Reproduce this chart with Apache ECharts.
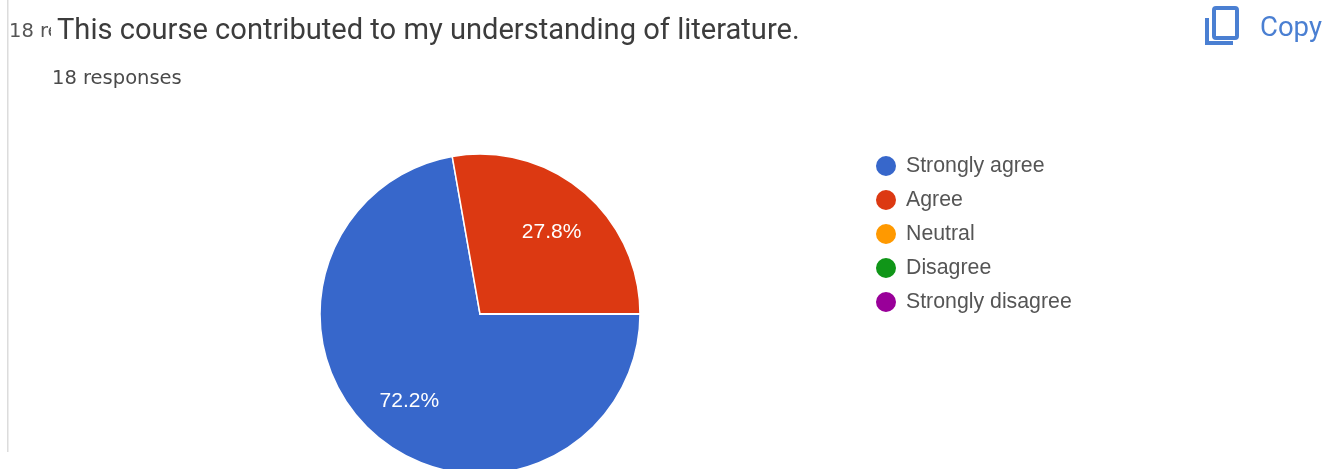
<!DOCTYPE html>
<html><head><meta charset="utf-8">
<style>html,body{margin:0;padding:0;background:#fff;overflow:hidden}#c{width:1337px;height:469px;filter:blur(0.6px)}</style>
<script src="https://cdn.jsdelivr.net/npm/echarts@6/dist/echarts.min.js"></script>
</head><body><div id="c"></div>
<script>
const categories = ['Strongly agree','Agree','Neutral','Disagree','Strongly disagree'];
const values = [13,5,0,0,0];
const colors = ['#3767cb','#dc3912','#ff9900','#109618','#990099'];
const titleText = 'This course contributed to my understanding of literature.';
const subText = '18 responses';
const clippedText = '18 re';
const copyText = 'Copy';
const FF = 'Roboto, Arial, sans-serif';
const AF = '"Liberation Sans", Arial, sans-serif';
const DF = '"DejaVu Sans", sans-serif';
const blue = '#4a7fd2';
const pieData = categories.map((n,i)=>({name:n,value:values[i],itemStyle:{color:colors[i]}}));
const chart = echarts.init(document.getElementById('c'),null,{renderer:'canvas'});
chart.setOption({
  animation:false,
  backgroundColor:'#fff',
  color:colors,
  legend:{
    orient:'vertical',left:874,top:154,padding:0,itemWidth:22,itemHeight:22,itemGap:10,icon:'circle',
    selectedMode:false,
    textStyle:{fontFamily:AF,fontSize:21.3,color:'#555',padding:[0,0,0,4]},
    data:categories
  },
  series:[
    {type:'pie',center:[480,314],radius:[0,160],startAngle:0,clockwise:true,data:pieData,
     itemStyle:{borderColor:'#fff',borderWidth:1.5},label:{show:false},labelLine:{show:false},silent:true},
    {type:'pie',center:[480,314],radius:[60,160],startAngle:0,clockwise:true,percentPrecision:1,silent:true,z:3,
     data:categories.map((n,i)=>({name:n,value:values[i],itemStyle:{color:'rgba(0,0,0,0)'}})),
     label:{show:true,position:'inside',fontFamily:AF,fontSize:21,color:'#fff',
       formatter:p=>p.value>0?p.percent.toFixed(1)+'%':''},
     labelLayout:p=>p.dataIndex===1?{dx:-1,dy:5}:{dx:2,dy:1},
     labelLine:{show:false}}
  ],
  graphic:[
    {type:'rect',silent:true,shape:{x:7,y:0,width:1.5,height:452},style:{fill:'#dcdcdc'},z:1},
    {type:'text',silent:true,x:9,y:32,z:1,style:{text:clippedText,fontFamily:DF,fontSize:19.5,fill:'#555',textVerticalAlign:'middle'}},
    {type:'rect',silent:true,shape:{x:51,y:15,width:80,height:30},style:{fill:'#fff'},z:2},
    {type:'text',silent:true,x:57,y:32,z:3,style:{text:titleText,fontFamily:FF,fontSize:29.1,fill:'#3c3c3c',textVerticalAlign:'middle'}},
    {type:'text',silent:true,x:52,y:79,z:3,style:{text:subText,fontFamily:DF,fontSize:19.5,fill:'#4a4a4a',textVerticalAlign:'middle'}},
    {type:'text',silent:true,x:1260,y:29,z:3,style:{text:copyText,fontFamily:FF,fontSize:27.5,fill:blue,textVerticalAlign:'middle'}},
    {type:'rect',silent:true,z:3,shape:{x:1214,y:8,width:23,height:30,r:2},style:{fill:'none',stroke:blue,lineWidth:4}},
    {type:'polyline',silent:true,z:3,shape:{points:[[1207,18],[1207,43],[1233,43]]},style:{fill:'none',stroke:blue,lineWidth:4}}
  ]
});
</script></body></html>
